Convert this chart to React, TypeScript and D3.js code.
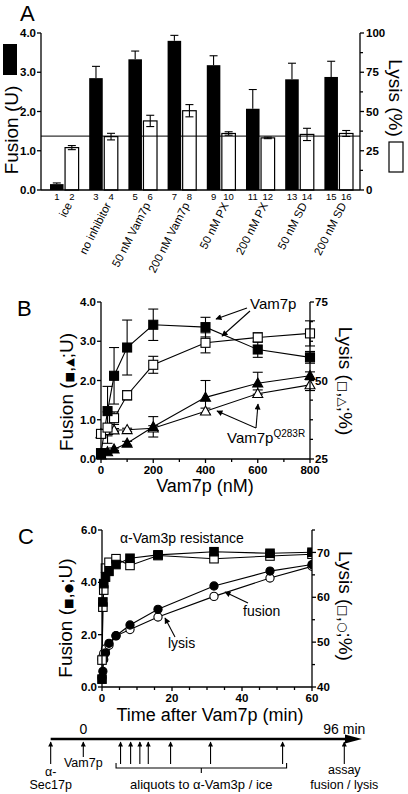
import React from "react";
import * as d3 from "d3";

// ---------- Panel A data ----------
const groupsA = ["ice", "no inhibitor", "50 nM Vam7p", "200 nM Vam7p", "50 nM PX", "200 nM PX", "50 nM SD", "200 nM SD"];
const fusionA = [0.15, 2.85, 3.33, 3.8, 3.18, 2.07, 2.82, 2.88];
const fusionErrA = [0.03, 0.3, 0.21, 0.14, 0.24, 0.49, 0.41, 0.4];
const lysisA = [27, 34, 44, 50.5, 36, 33.2, 35.4, 36];
const lysisErrA = [1.3, 2.1, 3.6, 3.9, 1.1, 0.5, 3.9, 1.9];
const lysisRefA = 34.3;
const fusionTicksA = [0, 1, 2, 3, 4];
const lysisTicksA = [0, 25, 50, 75, 100];
const lysisMinorA = [12.5, 37.5, 62.5, 87.5];

// ---------- Panel B data ----------
const concB = [0, 25, 50, 100, 200, 400, 600, 800];
const fusWtB = [0.15, 1.22, 2.12, 2.84, 3.42, 3.36, 2.79, 2.59];
const fusWtErrB = [0.05, 0.63, 0.72, 0.7, 0.4, 0.25, 0.2, 0.15];
const lysWtB = [33, 35, 38, 45.3, 55, 62, 63.7, 65];
const lysWtErrB = [1, 5, 2, 1.5, 2.7, 3.2, 1.5, 4];
const fusMutB = [0.1, 0.18, 0.25, 0.4, 0.82, 1.57, 1.93, 2.12];
const fusMutErrB = [0.02, 0.03, 0.03, 0.05, 0.26, 0.43, 0.28, 0.1];
const lysMutB = [33, 34, 34.2, 34.3, 34.8, 40.2, 45.8, 48.6];
const lysMutErrB = [0.5, 0.5, 0.5, 0.5, 0.8, 1, 1.2, 1.8];
const fusionTicksB = [0, 1, 2, 3, 4];
const lysisTicksB = [25, 50, 75];
const lysisMinorB = [31.25, 37.5, 43.75, 56.25, 62.5, 68.75];
const concTicksB = [0, 200, 400, 600, 800];
const concMinorB = [100, 300, 500, 700];

// ---------- Panel C data ----------
const timeC = [0, 0.25, 0.5, 1, 2, 4, 8, 16, 32, 48, 60];
const fusResC = [0.3, 3.25, 3.95, 4.2, 4.42, 4.68, 4.92, 5.05, 5.17, 5.11, 5.15];
const lysResC = [46, 57.8, 61.6, 66.5, 67.8, 68.6, 67.1, 69.3, 68.6, 69.2, 69.6];
const fusKinC = [0.35, 0.6, 1.05, 1.3, 1.67, 1.96, 2.37, 2.97, 3.86, 4.43, 4.68];
const lysKinC = [46.2, 46.8, 47.5, 48.5, 49.3, 51.4, 52.8, 55.6, 60.2, 64.3, 66.9];
const fusionTicksC = [0, 2, 4, 6];
const lysisTicksC = [40, 50, 60, 70];
const lysisMinorC = [45, 55, 65, 75];
const timeTicksC = [0, 20, 40, 60];
const timeMinorC = [5, 10, 15, 25, 30, 35, 45, 50, 55];

// ---------- Timeline (schematic units) ----------
const tlStart = -12;
const tlEnd = 102.5;
const tlSec17 = -12;
const tlVam7 = 0;
const tlAliquots = [13.7, 17.4, 20.8, 23.9, 32.1, 46.8, 73.3];
const tlAssay = 96;

const FONT = "'Liberation Sans', Arial, Helvetica, sans-serif";
const f1 = d3.format(".1f");

function Sq({ x, y, s, filled }: any) {
  return <rect x={x - s / 2} y={y - s / 2} width={s} height={s} fill={filled ? "#000" : "#fff"} stroke="#000" strokeWidth={1.1} />;
}
function Tri({ x, y, s, filled }: any) {
  const h = s * 0.9;
  return <path d={`M${x},${y - h * 0.58} L${x + s / 2},${y + h * 0.42} L${x - s / 2},${y + h * 0.42} Z`} fill={filled ? "#000" : "#fff"} stroke="#000" strokeWidth={1.1} />;
}
function Circ({ x, y, r, filled }: any) {
  return <circle cx={x} cy={y} r={r} fill={filled ? "#000" : "#fff"} stroke="#000" strokeWidth={1.1} />;
}

function ErrBar({ x, y0, y1, cap, lw = 1.1 }: any) {
  return (
    <g stroke="#000" strokeWidth={lw}>
      <line x1={x} x2={x} y1={y0} y2={y1} />
      <line x1={x - cap / 2} x2={x + cap / 2} y1={y1} y2={y1} />
    </g>
  );
}

function Arrow({ x1, y1, x2, y2, id = "ah" }: any) {
  return <line x1={x1} y1={y1} x2={x2} y2={y2} stroke="#000" strokeWidth={1.1} markerEnd={`url(#${id})`} />;
}

export default function App() {
  // ----- Panel A -----
  const xA = d3.scaleBand<string>().domain(groupsA).range([50, 353]).paddingInner(0.27);
  const barW = (xA.bandwidth() - 1.5) / 2;
  const yFA = d3.scaleLinear().domain([0, 4]).range([190, 33]);
  const yLA = d3.scaleLinear().domain([0, 100]).range([190, 33]);
  const axL_A = 41, axR_A = 360;

  // ----- Panel B -----
  const xB = d3.scaleLinear().domain([0, 800]).range([101, 310]);
  const yFB = d3.scaleLinear().domain([0, 4]).range([459, 302]);
  const yLB = d3.scaleLinear().domain([25, 75]).range([459, 302]);
  const lineFB = d3.line<number>().x((_, i) => xB(concB[i])).y((d) => yFB(d));
  const lineLB = d3.line<number>().x((_, i) => xB(concB[i])).y((d) => yLB(d));

  // ----- Panel C -----
  const xC = d3.scaleLinear().domain([0, 60]).range([102, 312]);
  const yFC = d3.scaleLinear().domain([0, 6]).range([687, 530]);
  const yLC = d3.scaleLinear().domain([40, 75]).range([687, 530]);
  const lineFC = d3.line<number>().x((_, i) => xC(timeC[i])).y((d) => yFC(d));
  const lineLC = d3.line<number>().x((_, i) => xC(timeC[i])).y((d) => yLC(d));

  // ----- Timeline -----
  const xT = d3.scaleLinear().domain([0, 96]).range([83.3, 344.3]);
  const tlY = 739;
  const brL = xT(tlAliquots[0]) - 4.5;
  const brR = xT(tlAliquots[tlAliquots.length - 1]) + 4;

  const bold = { fontFamily: FONT, fontWeight: 700, fontSize: 11.5 } as const;

  return (
    <svg width={408} height={794} viewBox="0 0 408 794" style={{ position: "absolute", left: 0, top: 0, background: "#fff" }} fontFamily={FONT}>
      <defs>
        <marker id="ah" viewBox="0 0 10 10" refX={9} refY={5} markerWidth={7} markerHeight={6} orient="auto" markerUnits="userSpaceOnUse">
          <path d="M0,0 L10,5 L0,10 Z" fill="#000" />
        </marker>
        <marker id="ahs" viewBox="0 0 10 10" refX={9} refY={5} markerWidth={6} markerHeight={5} orient="auto" markerUnits="userSpaceOnUse">
          <path d="M0,0 L10,5 L0,10 Z" fill="#000" />
        </marker>
        <clipPath id="clipC">
          <rect x={80} y={520} width={312 - 80} height={180} />
        </clipPath>
      </defs>
      <rect x={0} y={0} width={408} height={794} fill="#fff" />

      {/* ================= PANEL A ================= */}
      <text x={20} y={21} fontSize={22}>A</text>
      <line x1={axL_A} x2={axR_A} y1={yLA(lysisRefA)} y2={yLA(lysisRefA)} stroke="#333" strokeWidth={1.2} />
      {groupsA.map((g, i) => {
        const x0 = xA(g)!;
        const x1 = x0 + barW + 1.5;
        return (
          <g key={g}>
            <ErrBar x={x0 + barW / 2} y0={yFA(fusionA[i])} y1={yFA(fusionA[i] + fusionErrA[i])} cap={8} />
            <rect x={x0} y={yFA(fusionA[i])} width={barW} height={yFA(0) - yFA(fusionA[i])} fill="#000" />
            <rect x={x1} y={yLA(lysisA[i])} width={barW} height={yLA(0) - yLA(lysisA[i])} fill="none" stroke="#000" strokeWidth={1.2} />
            <ErrBar x={x1 + barW / 2} y0={yLA(lysisA[i])} y1={yLA(lysisA[i] + lysisErrA[i])} cap={8} />
            <ErrBar x={x1 + barW / 2} y0={yLA(lysisA[i])} y1={yLA(lysisA[i] - lysisErrA[i])} cap={8} />
            <text x={x0 + barW / 2} y={200} fontSize={9.5} textAnchor="middle">{i * 2 + 1}</text>
            <text x={x1 + barW / 2} y={200} fontSize={9.5} textAnchor="middle">{i * 2 + 2}</text>
            <text transform={`translate(${x0 + xA.bandwidth() / 2 + 8},${205}) rotate(-63)`} fontSize={11.5} textAnchor="end">{g}</text>
          </g>
        );
      })}
      <g stroke="#000" strokeWidth={1.3}>
        <line x1={axL_A} x2={axL_A} y1={33} y2={190} />
        <line x1={axR_A} x2={axR_A} y1={33} y2={190} />
        <line x1={axL_A} x2={axR_A} y1={190} y2={190} />
        {fusionTicksA.map((t) => <line key={"fa" + t} x1={axL_A - 4} x2={axL_A} y1={yFA(t)} y2={yFA(t)} />)}
        {lysisTicksA.map((t) => <line key={"la" + t} x1={axR_A} x2={axR_A + 4} y1={yLA(t)} y2={yLA(t)} />)}
        {lysisMinorA.map((t) => <line key={"lam" + t} x1={axR_A} x2={axR_A + 3} y1={yLA(t)} y2={yLA(t)} />)}
      </g>
      {fusionTicksA.map((t) => <text key={"fat" + t} x={axL_A - 5} y={yFA(t)} dy="0.36em" textAnchor="end" {...bold}>{f1(t)}</text>)}
      {lysisTicksA.map((t) => <text key={"lat" + t} x={axR_A + 6} y={yLA(t)} dy="0.36em" {...bold}>{t}</text>)}
      <rect x={3} y={44} width={14} height={31} fill="#000" />
      <text transform="translate(18,130) rotate(-90)" fontSize={19} textAnchor="middle">Fusion (U)</text>
      <text transform="translate(389,98) rotate(90)" fontSize={19} textAnchor="middle">Lysis (%)</text>
      <rect x={389} y={142} width={14} height={30} fill="#fff" stroke="#000" strokeWidth={1.2} />

      {/* ================= PANEL B ================= */}
      <text x={17} y={316} fontSize={22}>B</text>
      {concB.map((c, i) => (
        <g key={"eb" + c}>
          <ErrBar x={xB(c)} y0={yFB(fusWtB[i])} y1={yFB(fusWtB[i] + fusWtErrB[i])} cap={10} />
          <ErrBar x={xB(c)} y0={yFB(fusWtB[i])} y1={yFB(fusWtB[i] - fusWtErrB[i])} cap={10} />
          <ErrBar x={xB(c)} y0={yLB(lysWtB[i])} y1={yLB(lysWtB[i] + lysWtErrB[i])} cap={10} />
          <ErrBar x={xB(c)} y0={yLB(lysWtB[i])} y1={yLB(lysWtB[i] - lysWtErrB[i])} cap={10} />
          <ErrBar x={xB(c)} y0={yFB(fusMutB[i])} y1={yFB(fusMutB[i] + fusMutErrB[i])} cap={10} />
          <ErrBar x={xB(c)} y0={yFB(fusMutB[i])} y1={yFB(fusMutB[i] - fusMutErrB[i])} cap={10} />
          <ErrBar x={xB(c)} y0={yLB(lysMutB[i])} y1={yLB(lysMutB[i] + lysMutErrB[i])} cap={10} />
          <ErrBar x={xB(c)} y0={yLB(lysMutB[i])} y1={yLB(lysMutB[i] - lysMutErrB[i])} cap={10} />
        </g>
      ))}
      <g fill="none" stroke="#000" strokeWidth={1.1}>
        <path d={lineLB(lysMutB)!} />
        <path d={lineFB(fusMutB)!} />
        <path d={lineLB(lysWtB)!} />
        <path d={lineFB(fusWtB)!} />
      </g>
      {concB.map((c, i) => <Tri key={"lm" + c} x={xB(c)} y={yLB(lysMutB[i])} s={10} filled={false} />)}
      {concB.map((c, i) => <Tri key={"fm" + c} x={xB(c)} y={yFB(fusMutB[i])} s={10} filled={true} />)}
      {concB.map((c, i) => <Sq key={"lw" + c} x={xB(c)} y={yLB(lysWtB[i])} s={9} filled={false} />)}
      {concB.map((c, i) => <Sq key={"fw" + c} x={xB(c)} y={yFB(fusWtB[i])} s={9} filled={true} />)}
      <g stroke="#000" strokeWidth={1.3}>
        <line x1={101} x2={101} y1={302} y2={459} />
        <line x1={310} x2={310} y1={302} y2={459} />
        <line x1={101} x2={310} y1={459} y2={459} />
        {fusionTicksB.map((t) => <line key={"fb" + t} x1={97} x2={101} y1={yFB(t)} y2={yFB(t)} />)}
        {lysisTicksB.map((t) => <line key={"lb" + t} x1={310} x2={314} y1={yLB(t)} y2={yLB(t)} />)}
        {lysisMinorB.map((t) => <line key={"lbm" + t} x1={310} x2={313} y1={yLB(t)} y2={yLB(t)} />)}
        {concTicksB.map((t) => <line key={"cb" + t} x1={xB(t)} x2={xB(t)} y1={459} y2={463} />)}
        {concMinorB.map((t) => <line key={"cbm" + t} x1={xB(t)} x2={xB(t)} y1={459} y2={462} />)}
      </g>
      {fusionTicksB.map((t) => <text key={"fbt" + t} x={96} y={yFB(t)} dy="0.36em" textAnchor="end" {...bold}>{f1(t)}</text>)}
      {lysisTicksB.map((t) => <text key={"lbt" + t} x={315} y={yLB(t)} dy="0.36em" {...bold}>{t}</text>)}
      {concTicksB.map((t) => <text key={"cbt" + t} x={xB(t)} y={473.5} textAnchor="middle" {...bold}>{t}</text>)}
      <text x={205} y={492} fontSize={18} textAnchor="middle">Vam7p (nM)</text>
      <text transform="translate(73,392) rotate(-90)" fontSize={19} textAnchor="middle">
        Fusion (<tspan fontSize={11} fontFamily="DejaVu Sans">■</tspan>,<tspan fontSize={11} fontFamily="DejaVu Sans">▲</tspan>;U)
      </text>
      <text transform="translate(339,381) rotate(90)" fontSize={19} textAnchor="middle">
        Lysis (<tspan fontSize={12} fontFamily="DejaVu Sans">□</tspan>,<tspan fontSize={12} fontFamily="DejaVu Sans">△</tspan>;%)
      </text>
      <text x={250} y={309} fontSize={15}>Vam7p</text>
      <Arrow x1={247} y1={308} x2={216} y2={319} />
      <Arrow x1={250} y1={311} x2={222} y2={336} />
      <text x={227} y={443} fontSize={15}>Vam7p<tspan dy={-6} fontSize={10}>Q283R</tspan></text>
      <Arrow x1={256} y1={428} x2={217} y2={411} />
      <Arrow x1={256} y1={428} x2={258} y2={404} />

      {/* ================= PANEL C ================= */}
      <text x={18} y={544} fontSize={22}>C</text>
      <g clipPath="url(#clipC)">
        <g fill="none" stroke="#000" strokeWidth={1.1}>
          <path d={lineLC(lysKinC)!} />
          <path d={lineFC(fusKinC)!} />
          <path d={lineLC(lysResC)!} />
          <path d={lineFC(fusResC)!} />
        </g>
        {timeC.map((t, i) => <Circ key={"lk" + t} x={xC(t)} y={yLC(lysKinC[i])} r={4.1} filled={false} />)}
        {timeC.map((t, i) => <Circ key={"fk" + t} x={xC(t)} y={yFC(fusKinC[i])} r={4.1} filled={true} />)}
        {timeC.map((t, i) => <Sq key={"lr" + t} x={xC(t)} y={yLC(lysResC[i])} s={8.5} filled={false} />)}
        {timeC.map((t, i) => <Sq key={"fr" + t} x={xC(t)} y={yFC(fusResC[i])} s={8.5} filled={true} />)}
      </g>
      <g stroke="#000" strokeWidth={1.3}>
        <line x1={102} x2={102} y1={530} y2={687} />
        <line x1={312} x2={312} y1={530} y2={687} />
        <line x1={102} x2={312} y1={687} y2={687} />
        {fusionTicksC.map((t) => <line key={"fc" + t} x1={98} x2={102} y1={yFC(t)} y2={yFC(t)} />)}
        {lysisTicksC.map((t) => <line key={"lc" + t} x1={312} x2={316} y1={yLC(t)} y2={yLC(t)} />)}
        {lysisMinorC.map((t) => <line key={"lcm" + t} x1={312} x2={315} y1={yLC(t)} y2={yLC(t)} />)}
        {timeTicksC.map((t) => <line key={"tc" + t} x1={xC(t)} x2={xC(t)} y1={687} y2={691} />)}
        {timeMinorC.map((t) => <line key={"tcm" + t} x1={xC(t)} x2={xC(t)} y1={687} y2={690} />)}
      </g>
      {fusionTicksC.map((t) => <text key={"fct" + t} x={97} y={yFC(t)} dy="0.36em" textAnchor="end" {...bold}>{f1(t)}</text>)}
      {lysisTicksC.map((t) => <text key={"lct" + t} x={317} y={yLC(t)} dy="0.36em" {...bold}>{t}</text>)}
      {timeTicksC.map((t) => <text key={"tct" + t} x={xC(t)} y={702} textAnchor="middle" {...bold}>{t}</text>)}
      <text x={210} y={721} fontSize={18} textAnchor="middle">Time after Vam7p (min)</text>
      <text transform="translate(72,618) rotate(-90)" fontSize={19} textAnchor="middle">
        Fusion (<tspan fontSize={11} fontFamily="DejaVu Sans">■</tspan>,<tspan fontSize={11} fontFamily="DejaVu Sans">●</tspan>;U)
      </text>
      <text transform="translate(339,606) rotate(90)" fontSize={19} textAnchor="middle">
        Lysis (<tspan fontSize={12} fontFamily="DejaVu Sans">□</tspan>,<tspan fontSize={12} fontFamily="DejaVu Sans">○</tspan>;%)
      </text>
      <text x={120} y={543} fontSize={14}>α-Vam3p resistance</text>
      <text x={243} y={616} fontSize={14}>fusion</text>
      <Arrow x1={248} y1={603} x2={225} y2={592} />
      <text x={168} y={648} fontSize={14}>lysis</text>
      <Arrow x1={175} y1={637} x2={165} y2={618} />

      {/* ================= Timeline ================= */}
      <text x={xT(0)} y={734} fontSize={14} textAnchor="middle">0</text>
      <text x={xT(tlAssay)} y={734} fontSize={14} textAnchor="middle">96 min</text>
      <line x1={xT(tlStart)} x2={xT(tlEnd) - 14} y1={tlY} y2={tlY} stroke="#000" strokeWidth={2.6} />
      <path d={`M${xT(tlEnd) - 17},${tlY - 4.5} L${xT(tlEnd)},${tlY} L${xT(tlEnd) - 17},${tlY + 4.5} Z`} fill="#000" />
      {[tlSec17, tlVam7, ...tlAliquots, tlAssay].map((t, i) => (
        <line key={"tl" + i} x1={xT(t)} x2={xT(t)} y1={t === tlVam7 ? 757 : 764} y2={742} stroke="#000" strokeWidth={1.1} markerEnd="url(#ahs)" />
      ))}
      <g stroke="#000" strokeWidth={1.1} fill="none">
        <path d={`M${brL},763 V768 H${brR} V763`} />
        <line x1={(brL + brR) / 2} x2={(brL + brR) / 2} y1={768} y2={773} />
      </g>
      <text x={xT(tlSec17)} y={776} fontSize={12.5} textAnchor="middle">α-</text>
      <text x={xT(tlSec17)} y={789} fontSize={12.5} textAnchor="middle">Sec17p</text>
      <text x={xT(tlVam7)} y={767} fontSize={12.5} textAnchor="middle">Vam7p</text>
      <text x={(brL + brR) / 2} y={789} fontSize={13} textAnchor="middle">aliquots to α-Vam3p / ice</text>
      <text x={xT(tlAssay)} y={774} fontSize={12.5} textAnchor="middle">assay</text>
      <text x={xT(tlAssay)} y={789} fontSize={12.5} textAnchor="middle">fusion / lysis</text>
    </svg>
  );
}
